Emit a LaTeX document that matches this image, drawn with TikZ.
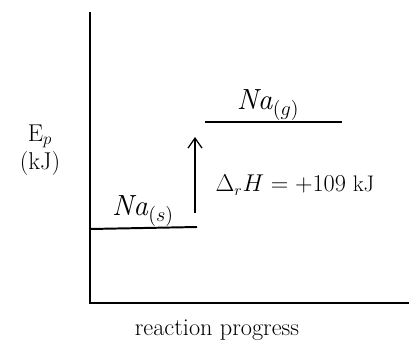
\documentclass[tikz,border=0pt]{standalone}
\usepackage{amsmath}
\usepackage{tikz}
\usetikzlibrary{positioning,arrows.meta}

\begin{document}
\begin{tikzpicture}[x=0.25mm, y=-0.25mm,
        axis/.style={draw=black, line width=2pt},
        level/.style={draw=black, line width=1.4pt},
        label/.style={font=\LARGE, inner sep=1pt},
        arrow/.style={draw=black, -{Straight Barb[length=2.5mm, width=3.5mm]}, line width=0.9pt}
    ]
        \useasboundingbox (0,0) rectangle (409,350);

        % axes
        \coordinate (origin) at (90,303);
        \coordinate (ytop) at (90,12);
        \coordinate (xend) at (409,303);
        \draw [axis] (ytop) -- (origin) -- (xend);

        % energy levels
        \coordinate (lowL) at (90,229);
        \coordinate (lowR) at (197,227);
        \coordinate (highL) at (205,122);
        \coordinate (highR) at (342,122);
        \draw [level] (lowL) -- (lowR);
        \draw [level] (highL) -- (highR);

        \node [label, font=\huge] (nas) at (143,211) {\textit{Na}$_{(s)}$};
        \node [label, font=\huge] (nag) at (268,105) {\textit{Na}$_{(g)}$};

        % enthalpy change
        \coordinate (arrbot) at (195,213);
        \coordinate (arrtop) at (195,137);
        \draw [arrow] (arrbot) -- (arrtop);
        \node [label, font=\fontsize{16}{19}\selectfont, anchor=west] (dh) at (214,185) {$\Delta_r H = +109$ kJ};

        % axis labels
        \node [label, align=center] (ep) at (40,150) {E$_p$\\[-2pt](kJ)};
        \node [label] (prog) at (217,330) {reaction progress};
    \end{tikzpicture}
\end{document}
